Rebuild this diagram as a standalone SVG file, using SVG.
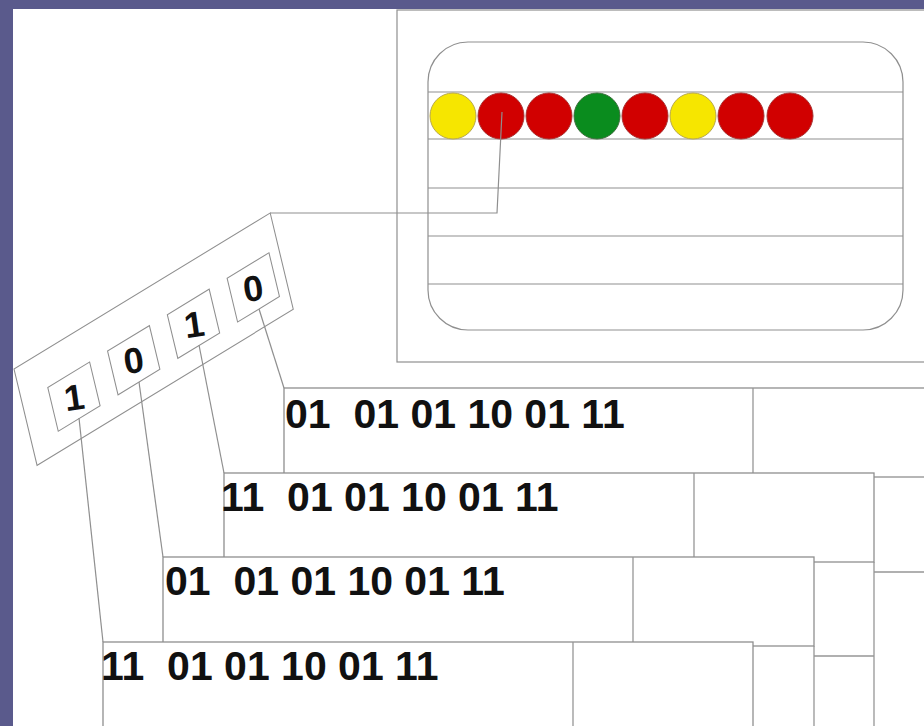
<svg xmlns="http://www.w3.org/2000/svg" width="924" height="726" viewBox="0 0 924 726">
<defs>
<style>
.ln{fill:none;stroke:#8f8f8f;stroke-width:1.2}
.card{fill:#ffffff;stroke:#8f8f8f;stroke-width:1.3}
.cl{fill:none;stroke:#969696;stroke-width:1.3}
.row{font-family:"Liberation Sans",Arial,sans-serif;font-weight:bold;font-size:41px;fill:#111111}
.bit{font-family:"Liberation Sans",Arial,sans-serif;font-weight:bold;font-size:36px;fill:#111111;text-anchor:middle}
.y{fill:#f6e600;stroke:#b8a84a;stroke-width:1}
.r{fill:#d10000;stroke:#a83030;stroke-width:1}
.g{fill:#0a8c1e;stroke:#3c6e3c;stroke-width:1}
</style>
</defs>
<rect x="0" y="0" width="924" height="726" fill="#5a5a8c"/>
<rect x="13" y="9" width="911" height="717" fill="#ffffff"/>

<g id="display">
<rect x="397" y="10" width="540" height="352" fill="#ffffff" stroke="#8f8f8f" stroke-width="1.2"/>
<rect x="428" y="42" width="475" height="288" rx="40" ry="40" fill="#ffffff" stroke="#8f8f8f" stroke-width="1.2"/>
<g class="ln">
<line x1="428" y1="92" x2="903" y2="92"/>
<line x1="428" y1="139" x2="903" y2="139"/>
<line x1="428" y1="188" x2="903" y2="188"/>
<line x1="428" y1="236" x2="903" y2="236"/>
<line x1="428" y1="284" x2="903" y2="284"/>
</g>
<circle class="y" cx="453" cy="116" r="23"/>
<circle class="r" cx="501" cy="116" r="23"/>
<circle class="r" cx="549" cy="116" r="23"/>
<circle class="g" cx="597" cy="116" r="23"/>
<circle class="r" cx="645" cy="116" r="23"/>
<circle class="y" cx="693" cy="116" r="23"/>
<circle class="r" cx="741" cy="116" r="23"/>
<circle class="r" cx="790" cy="116" r="23"/>
</g>

<g id="register">
<g transform="matrix(0.854 -0.520 0.233 0.973 14 369)">
<rect x="0" y="0" width="300" height="99" fill="#ffffff" stroke="#8f8f8f" stroke-width="1.1"/>
<g fill="#ffffff" stroke="#8f8f8f" stroke-width="1.1">
<rect x="30" y="35" width="49" height="45"/>
<rect x="100" y="35" width="49" height="45"/>
<rect x="170" y="35" width="49" height="45"/>
<rect x="240" y="35" width="49" height="45"/>
</g>
</g>
<text class="bit" x="74" y="410" transform="rotate(-8 74 397)">1</text>
<text class="bit" x="133.5" y="373" transform="rotate(-8 133.5 360)">0</text>
<text class="bit" x="194" y="337" transform="rotate(-8 194 324)">1</text>
<text class="bit" x="253" y="301" transform="rotate(-8 253 288)">0</text>
</g>

<g id="back-lines" class="cl">
<line x1="874" y1="562" x2="874" y2="726"/>
<line x1="874" y1="572" x2="924" y2="572"/>
<line x1="814" y1="656" x2="874" y2="656"/>
<line x1="814" y1="646" x2="814" y2="726"/>
</g>

<g id="card-a">
<rect class="card" x="284" y="388" width="660" height="89"/>
<line class="cl" x1="753" y1="388" x2="753" y2="477"/>
<text class="row" x="285" y="428" xml:space="preserve">01  01 01 10 01 11</text>
</g>
<g id="card-b">
<rect class="card" x="224" y="473" width="650" height="89"/>
<line class="cl" x1="694" y1="473" x2="694" y2="562"/>
<text class="row" x="221" y="511" xml:space="preserve">11  01 01 10 01 11</text>
</g>
<g id="card-c">
<rect class="card" x="163" y="557" width="651" height="89"/>
<line class="cl" x1="633" y1="557" x2="633" y2="646"/>
<text class="row" x="165" y="595" xml:space="preserve">01  01 01 10 01 11</text>
</g>
<g id="card-d">
<rect class="card" x="103" y="642" width="650" height="100"/>
<line class="cl" x1="573" y1="642" x2="573" y2="726"/>
<text class="row" x="101" y="680" xml:space="preserve">11  01 01 10 01 11</text>
</g>

<g id="connectors" class="ln">
<polyline points="502,112 497,213 270,213"/>
<line x1="259" y1="309" x2="284" y2="388"/>
<line x1="199" y1="345" x2="224" y2="473"/>
<line x1="139" y1="382" x2="163" y2="557"/>
<line x1="79" y1="418" x2="103" y2="642"/>
</g>
</svg>
